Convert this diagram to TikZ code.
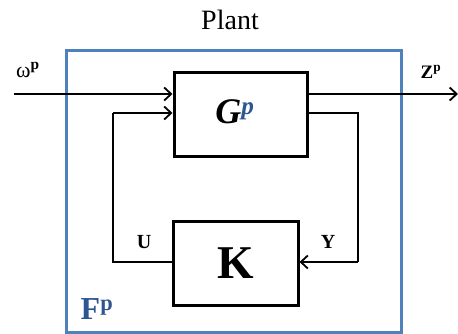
\documentclass[tikz,border=0pt]{standalone}
\usepackage{fontspec}
\setmainfont{Liberation Serif}
\usetikzlibrary{arrows.meta}
\definecolor{frameblue}{RGB}{79,129,189}
\definecolor{lblblue}{RGB}{45,85,145}
\begin{document}
\begin{tikzpicture}[x=1pt,y=-1pt,
  blk/.style={draw=black,line width=3pt,inner sep=0pt},
  wire/.style={draw=black,line width=2pt},
  arr/.style={wire,-{Straight Barb[length=7pt,width=13pt,line width=1.8pt]}}]
\useasboundingbox (0,0) rectangle (458,334);
\node[draw=frameblue,line width=3pt,minimum width=335pt,minimum height=281pt,inner sep=0pt] (frame) at (233.5,191.5) {};
\node[blk,minimum width=133pt,minimum height=84pt] (G) at (240.5,115) {};
\node (gl) at (235,112) {\fontsize{36}{36}\selectfont\bfseries\itshape G\textsuperscript{\color{lblblue}p}};
\node[blk,minimum width=125pt,minimum height=84pt] (K) at (235.5,263) {\fontsize{47}{47}\selectfont\bfseries K};
\coordinate (win) at (14,94);
\coordinate (zout) at (458,94);
\coordinate (yr) at (358,113);
\coordinate (ybr) at (358,262);
\coordinate (ul) at (113,262);
\coordinate (ut) at (113,113);
\draw[arr] (win) -- (G.west |- win);
\draw[arr] (G.east |- zout) -- (zout);
\draw[wire] (G.east |- yr) -- (yr) -- (ybr);
\draw[arr] (ybr) -- (K.east |- ybr);
\draw[wire] (K.west |- ul) -- (ul) -- (ut);
\draw[arr] (ut) -- (G.west |- ut);
\node (plant) at (230,20) {\fontsize{28}{28}\selectfont Plant};
\node (wl) at (28,70) {\fontsize{22}{22}\selectfont ω\textsuperscript{\bfseries p}};
\node (zl) at (431,72) {\fontsize{19}{19}\selectfont\bfseries Z\textsuperscript{p}};
\node (ul1) at (144,242) {\fontsize{20}{20}\selectfont\bfseries U};
\node (yl1) at (328,242) {\fontsize{20}{20}\selectfont\bfseries Y};
\node[text=lblblue] (fl) at (97,309) {\fontsize{32}{32}\selectfont\bfseries F\textsuperscript{p}};
\end{tikzpicture}
\end{document}
